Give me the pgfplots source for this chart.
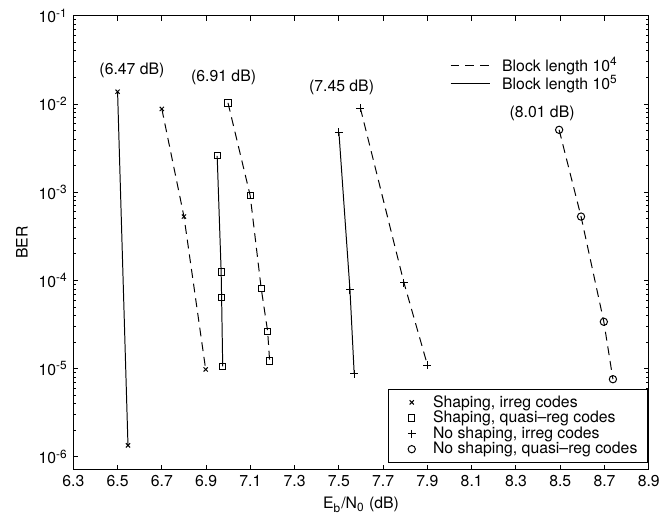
\documentclass[border=0pt]{standalone}
\usepackage{fontspec}
\setmainfont{TeX Gyre Heros}
\usepackage{pgfplots}
\pgfplotsset{compat=1.18}

\begin{document}
\fontsize{8}{9.6}\selectfont
\begin{tikzpicture}

\pgfplotsset{
  s10e4/.style={black, line width=0.5pt, dash pattern=on 4.5pt off 3pt},
  s10e5/.style={black, line width=0.5pt, solid},
}

\begin{axis}[
  scale only axis,
  width=290.5bp,
  height=229bp,
  xmin=6.3, xmax=8.9,
  ymode=log,
  ymin=7.2e-7, ymax=1e-1,
  clip=false,
  axis line style={line width=0.5pt},
  tick style={black, line width=0.5pt},
  major tick length=2.5bp,
  minor tick length=1.5bp,
  tick pos=both,
  tick align=inside,
  xtick={6.3,6.5,6.7,6.9,7.1,7.3,7.5,7.7,7.9,8.1,8.3,8.5,8.7,8.9},
  xticklabel style={/pgf/number format/fixed, /pgf/number format/precision=1,
    /pgf/number format/fixed zerofill, /pgf/number format/assume math mode=true},
  ytick={1e-6,1e-5,1e-4,1e-3,1e-2,1e-1},
  yticklabels={10\textsuperscript{-6},10\textsuperscript{-5},10\textsuperscript{-4},
    10\textsuperscript{-3},10\textsuperscript{-2},10\textsuperscript{-1}},
  xlabel={E\textsubscript{b}/N\textsubscript{0} (dB)},
  ylabel={BER},
  label style={font=\fontsize{8}{9.6}\selectfont},
  ticklabel style={font=\fontsize{8}{9.6}\selectfont},
  legend style={at={(rel axis cs:0.9983,0.0153)}, anchor=south east,
    font=\fontsize{8}{9.6}\selectfont, draw=black, line width=0.5pt,
    inner xsep=3pt, inner ysep=1pt, row sep=-3.2pt},
  legend cell align=left,
  legend image code/.code={%
    \path (0cm,0cm) (0.6cm,0cm);
    \draw[#1] plot coordinates {(0.3cm,0cm)};},
]

% shaping, irregular codes (x)
\addplot[s10e5, mark=x, mark size=1.5pt, mark options={solid}, forget plot]
  coordinates {(6.50,1.38e-2) (6.547,1.35e-6)};
\addplot[s10e4, mark=x, mark size=1.5pt, mark options={solid}, forget plot]
  coordinates {(6.70,8.8e-3) (6.80,5.3e-4) (6.898,9.8e-6)};

% shaping, quasi-regular codes (square)
\addplot[s10e5, mark=square, mark size=1.6pt, mark options={solid}, forget plot]
  coordinates {(6.95,2.59e-3) (6.968,1.25e-4) (6.970,6.4e-5) (6.975,1.06e-5)};
\addplot[s10e4, mark=square, mark size=1.6pt, mark options={solid}, forget plot]
  coordinates {(6.999,1.03e-2) (7.099,9.2e-4) (7.149,8.1e-5) (7.178,2.65e-5) (7.187,1.22e-5)};

% no shaping, irregular codes (+)
\addplot[s10e5, mark=+, mark size=2pt, mark options={solid}, forget plot]
  coordinates {(7.50,4.8e-3) (7.55,7.8e-5) (7.569,8.8e-6)};
\addplot[s10e4, mark=+, mark size=2pt, mark options={solid}, forget plot]
  coordinates {(7.597,9.0e-3) (7.794,9.4e-5) (7.90,1.1e-5)};

% no shaping, quasi-regular codes (o)
\addplot[s10e4, mark=o, mark size=1.85pt, mark options={solid}, forget plot]
  coordinates {(8.495,5.1e-3) (8.594,5.3e-4) (8.697,3.4e-5) (8.738,7.6e-6)};

\addlegendimage{only marks, mark=x, mark size=1.5pt, black}
\addlegendentry{Shaping, irreg codes}
\addlegendimage{only marks, mark=square, mark size=1.6pt, black}
\addlegendentry{Shaping, quasi--reg codes}
\addlegendimage{only marks, mark=+, mark size=2pt, black}
\addlegendentry{No shaping, irreg codes}
\addlegendimage{only marks, mark=o, mark size=1.85pt, black}
\addlegendentry{No shaping, quasi--reg codes}

\node at (axis cs:6.565,2.38e-2) {(6.47 dB)};
\node at (axis cs:6.979,2.0e-2) {(6.91 dB)};
\node at (axis cs:7.512,1.55e-2) {(7.45 dB)};
\node at (axis cs:8.418,7.8e-3) {(8.01 dB)};

\coordinate (bbsw) at (rel axis cs:-0.1274,-0.1245);
\coordinate (bbne) at (rel axis cs:1.0172,1.0349);
\end{axis}

% second, empty axis only for the line-style legend
\begin{axis}[
  scale only axis,
  width=290.5bp,
  height=229bp,
  xmin=6.3, xmax=8.9,
  ymode=log,
  ymin=7.2e-7, ymax=1e-1,
  hide axis,
  legend style={at={(rel axis cs:0.654,0.918)}, anchor=north west,
    font=\fontsize{8}{9.6}\selectfont, draw=none, fill=none,
    inner sep=0pt, row sep=-3pt,
    /tikz/every odd column/.append style={column sep=4pt}},
  legend cell align=left,
  legend image code/.code={\draw[#1] (0cm,0cm) -- (0.7cm,0cm);},
]
\addlegendimage{s10e4}
\addlegendentry{Block length 10\textsuperscript{4}}
\addlegendimage{s10e5}
\addlegendentry{Block length 10\textsuperscript{5}}
\end{axis}

\path (bbsw) rectangle (bbne);
\end{tikzpicture}
\end{document}
